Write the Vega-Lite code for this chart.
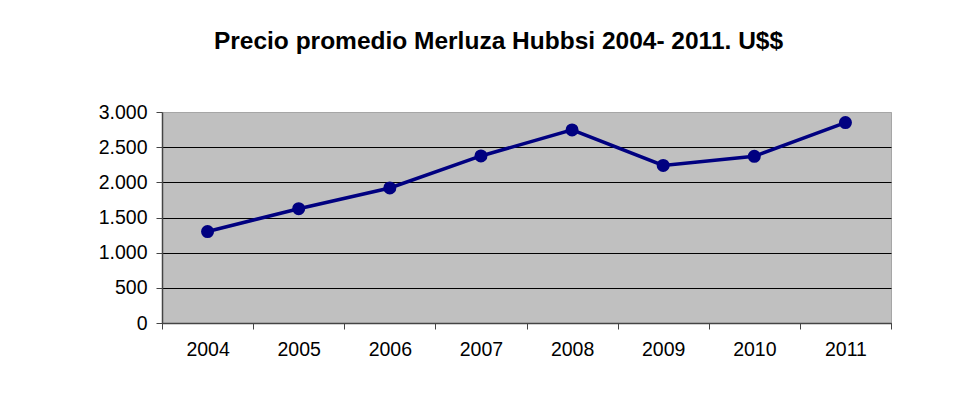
{
  "$schema": "https://vega.github.io/schema/vega-lite/v6.json",
  "autosize": "none",
  "width": 729,
  "height": 211,
  "padding": {"left": 162, "top": 112, "right": 66, "bottom": 78},
  "background": "white",
  "title": {
    "text": "Precio promedio Merluza Hubbsi 2004- 2011. U$$",
    "font": "Liberation Sans",
    "fontSize": 24.5,
    "fontWeight": "bold",
    "color": "black",
    "anchor": "middle",
    "dx": -28,
    "offset": 48
  },
  "data": {
    "values": [
      {"year": "2004", "price": 1300},
      {"year": "2005", "price": 1625},
      {"year": "2006", "price": 1920},
      {"year": "2007", "price": 2375},
      {"year": "2008", "price": 2745},
      {"year": "2009", "price": 2240},
      {"year": "2010", "price": 2370},
      {"year": "2011", "price": 2850}
    ]
  },
  "encoding": {
    "x": {
      "field": "year",
      "type": "ordinal",
      "scale": {"type": "band", "paddingInner": 0, "paddingOuter": 0},
      "axis": {
        "title": null,
        "labelAngle": 0,
        "tickBand": "extent",
        "labelFont": "Liberation Sans",
        "labelFontSize": 19.5,
        "labelColor": "black",
        "labelPadding": 11,
        "tickSize": 6,
        "tickColor": "#444444",
        "domainColor": "#444444",
        "domainWidth": 1.5,
        "grid": false
      }
    },
    "y": {
      "field": "price",
      "type": "quantitative",
      "scale": {"domain": [0, 3000], "nice": false},
      "axis": {
        "title": null,
        "values": [0, 500, 1000, 1500, 2000, 2500, 3000],
        "labelExpr": "replace(format(datum.value, ',d'), ',', '.')",
        "labelFont": "Liberation Sans",
        "labelFontSize": 19.5,
        "labelColor": "black",
        "labelPadding": 9,
        "tickSize": 6,
        "tickColor": "#444444",
        "domainColor": "#444444",
        "domainWidth": 1.5,
        "grid": true,
        "gridColor": {"condition": {"test": "datum.value == 3000", "value": "#a6a6a6"}, "value": "black"},
        "gridWidth": 1,
        "gridOpacity": 1
      }
    }
  },
  "layer": [
    {"mark": {"type": "line", "color": "#000080", "strokeWidth": 3.5}},
    {"mark": {"type": "point", "filled": true, "color": "#000080", "opacity": 1, "size": 170, "shape": "circle"}}
  ],
  "config": {
    "view": {"fill": "#c0c0c0", "stroke": "#a6a6a6", "strokeWidth": 1}
  }
}
